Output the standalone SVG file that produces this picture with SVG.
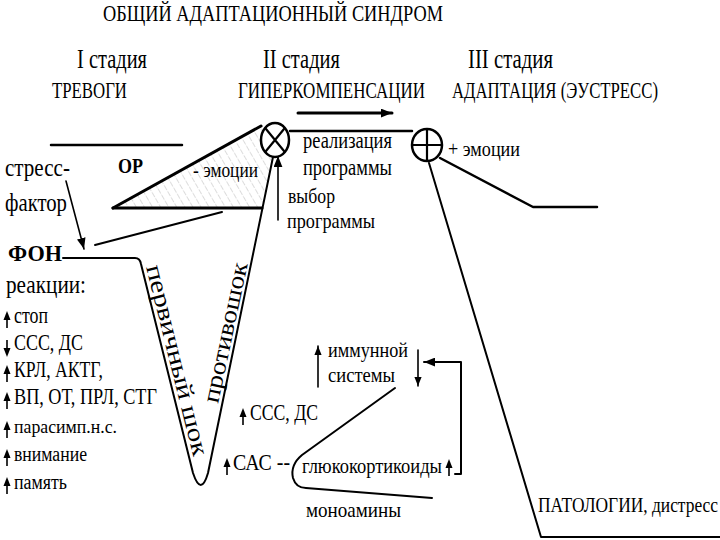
<svg xmlns="http://www.w3.org/2000/svg" xmlns:xlink="http://www.w3.org/1999/xlink" width="720" height="540" viewBox="0 0 720 540">
<style>
.ln{stroke:#000;fill:none;stroke-linecap:round;stroke-linejoin:round}
.b{font-weight:bold}
.t{font-family:"Liberation Serif","DejaVu Serif","Noto Serif",Tinos,serif}
</style>
<defs>
<pattern id="hatch" patternUnits="userSpaceOnUse" width="7" height="7" patternTransform="rotate(-30)">
<line x1="0" y1="0" x2="0" y2="7" stroke="#999" stroke-width="0.7" stroke-dasharray="3,1.5"/>
</pattern>
<marker id="ah" viewBox="0 0 10 8" refX="10" refY="4" markerWidth="11" markerHeight="9" markerUnits="userSpaceOnUse" orient="auto">
<path d="M0,0 L10,4 L0,8 z" fill="#000"/>
</marker>
<marker id="ahs" viewBox="0 0 10 8" refX="10" refY="4" markerWidth="9" markerHeight="8" markerUnits="userSpaceOnUse" orient="auto">
<path d="M0,0 L10,4 L0,8 z" fill="#000"/>
</marker>
<g id="up"><path d="M0,5 V-5" stroke="#000" stroke-width="1.6"/><path d="M-3.5,-3 L0,-12 L3.5,-3 z" fill="#000"/></g>
<g id="down"><path d="M0,-10 V0" stroke="#000" stroke-width="1.6"/><path d="M-3.5,-2 L0,7 L3.5,-2 z" fill="#000"/></g>
</defs>
<rect width="720" height="540" fill="#fff"/>
<g class="t" fill="#000">

<g id="titles">
<text x="103" y="21" font-size="24" textLength="340" lengthAdjust="spacingAndGlyphs">ОБЩИЙ АДАПТАЦИОННЫЙ СИНДРОМ</text>
<text x="77" y="68" font-size="28" textLength="70" lengthAdjust="spacingAndGlyphs">I стадия</text>
<text x="263" y="68" font-size="28" textLength="77" lengthAdjust="spacingAndGlyphs">II стадия</text>
<text x="468" y="68" font-size="28" textLength="85" lengthAdjust="spacingAndGlyphs">III стадия</text>
<text x="52" y="98" font-size="24" textLength="75" lengthAdjust="spacingAndGlyphs">ТРЕВОГИ</text>
<text x="238" y="98" font-size="24" textLength="187" lengthAdjust="spacingAndGlyphs">ГИПЕРКОМПЕНСАЦИИ</text>
<text x="452" y="98" font-size="24" textLength="206" lengthAdjust="spacingAndGlyphs">АДАПТАЦИЯ (ЭУСТРЕСС)</text>
</g>

<g id="hatched-triangle">
<polygon points="113,208 261,126 273,157 262,208" fill="url(#hatch)"/>
<path class="ln" d="M113,208 L261,126" stroke-width="3"/>
<path class="ln" d="M113,208 L262,208" stroke-width="3"/>
<text x="118" y="173" font-size="21" class="b" textLength="25" lengthAdjust="spacingAndGlyphs">ОР</text>
<text x="193" y="177" font-size="20" textLength="65" lengthAdjust="spacingAndGlyphs">- эмоции</text>
</g>

<g id="connectors">
<path class="ln" d="M51,145 H182" stroke-width="2.5"/>
<path class="ln" d="M66,181 L84,249" stroke-width="1.6" marker-end="url(#ah)"/>
<path class="ln" d="M95,245 L222,212" stroke-width="2"/>
<path class="ln" d="M63,258 H135 Q140,258 141,264 L193,473 Q201,497 208,473 L273,157" stroke-width="2"/>
<path class="ln" d="M298,113 H392" stroke-width="3" marker-end="url(#ah)"/>
<path class="ln" d="M290,131 H412" stroke-width="2.5"/>
<path class="ln" d="M278,220 V156" stroke-width="1.6" marker-end="url(#ah)"/>
<path class="ln" d="M440,158 L533,207 H597" stroke-width="2.5"/>
<path class="ln" d="M429,163 L541,537 H720" stroke-width="2"/>
<path class="ln" d="M318,387 V346" stroke-width="1.6" marker-end="url(#ahs)"/>
<path class="ln" d="M418,350 V386" stroke-width="1.6" marker-end="url(#ahs)"/>
<path class="ln" d="M455,474 H461 V362 H424" stroke-width="2" marker-end="url(#ah)"/>
<path class="ln" d="M395,388 L302,455 Q290,465 293,478 Q296,488 306,488 L432,498" stroke-width="2"/>
</g>

<g id="node-x">
<ellipse cx="275" cy="140" rx="14" ry="17" fill="#fff" stroke="#000" stroke-width="2.5"/>
<path class="ln" d="M266,129 L284,151 M284,129 L266,151" stroke-width="2.2"/>
</g>

<g id="node-plus">
<ellipse cx="427" cy="145" rx="15" ry="16" fill="#fff" stroke="#000" stroke-width="2.5"/>
<path class="ln" d="M412,145 H442 M427,129 V161" stroke-width="2.2"/>
</g>

<g id="stress">
<text x="5" y="176" font-size="26" textLength="65" lengthAdjust="spacingAndGlyphs">стресс-</text>
<text x="5" y="211" font-size="26" textLength="62" lengthAdjust="spacingAndGlyphs">фактор</text>
</g>

<g id="fon">
<text x="8" y="261" font-size="23" class="b" textLength="54" lengthAdjust="spacingAndGlyphs">ФОН</text>
<text x="6" y="293" font-size="25" textLength="80" lengthAdjust="spacingAndGlyphs">реакции:</text>
<use xlink:href="#up" x="7" y="323"/>
<text x="14" y="323" font-size="23" textLength="34" lengthAdjust="spacingAndGlyphs">стоп</text>
<use xlink:href="#down" x="7" y="350"/>
<text x="14" y="350" font-size="23" textLength="69" lengthAdjust="spacingAndGlyphs">ССС, ДС</text>
<use xlink:href="#up" x="7" y="377"/>
<text x="14" y="377" font-size="23" textLength="89" lengthAdjust="spacingAndGlyphs">КРЛ, АКТГ,</text>
<use xlink:href="#up" x="7" y="404"/>
<text x="14" y="404" font-size="23" textLength="143" lengthAdjust="spacingAndGlyphs">ВП, ОТ, ПРЛ, СТГ</text>
<use xlink:href="#up" x="7" y="433"/>
<text x="14" y="433" font-size="19" textLength="103" lengthAdjust="spacingAndGlyphs">парасимп.н.с.</text>
<use xlink:href="#up" x="7" y="461"/>
<text x="14" y="461" font-size="20" textLength="73" lengthAdjust="spacingAndGlyphs">внимание</text>
<use xlink:href="#up" x="7" y="489"/>
<text x="14" y="489" font-size="20" textLength="53" lengthAdjust="spacingAndGlyphs">память</text>
</g>

<g id="shock">
<text transform="translate(146,267) rotate(76)" font-size="24" textLength="196" lengthAdjust="spacingAndGlyphs">первичный шок</text>
<text transform="translate(218,404) rotate(-78)" font-size="24" textLength="143" lengthAdjust="spacingAndGlyphs">противошок</text>
</g>

<g id="program">
<text x="303" y="148" font-size="23" textLength="89" lengthAdjust="spacingAndGlyphs">реализация</text>
<text x="303" y="175" font-size="23" textLength="89" lengthAdjust="spacingAndGlyphs">программы</text>
<text x="288" y="203" font-size="22" textLength="47" lengthAdjust="spacingAndGlyphs">выбор</text>
<text x="287" y="228" font-size="22" textLength="88" lengthAdjust="spacingAndGlyphs">программы</text>
<text x="448" y="156" font-size="20" textLength="72" lengthAdjust="spacingAndGlyphs">+ эмоции</text>
</g>

<g id="response">
<text x="328" y="357" font-size="22" textLength="80" lengthAdjust="spacingAndGlyphs">иммунной</text>
<text x="328" y="382" font-size="22" textLength="67" lengthAdjust="spacingAndGlyphs">системы</text>
<use xlink:href="#up" x="243" y="420"/>
<text x="250" y="420" font-size="23" textLength="68" lengthAdjust="spacingAndGlyphs">ССС, ДС</text>
<use xlink:href="#up" x="227" y="470"/>
<text x="233" y="470" font-size="23" textLength="57" lengthAdjust="spacingAndGlyphs">САС --</text>
<text x="302" y="473" font-size="20" textLength="140" lengthAdjust="spacingAndGlyphs">глюкокортикоиды</text>
<use xlink:href="#up" x="449" y="471"/>
<text x="306" y="517" font-size="21" textLength="95" lengthAdjust="spacingAndGlyphs">моноамины</text>
</g>

<g id="pathology">
<text x="538" y="512" font-size="21" textLength="180" lengthAdjust="spacingAndGlyphs">ПАТОЛОГИИ, дистресс</text>
</g>
</g>
</svg>
